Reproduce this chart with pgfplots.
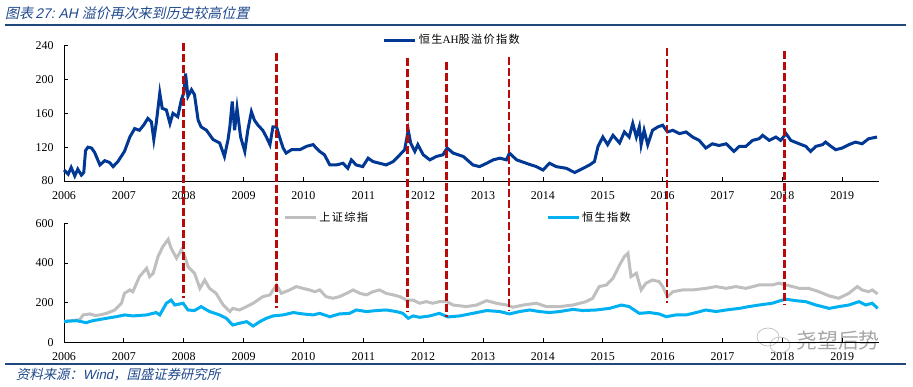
\documentclass[border=0pt]{standalone}
\usepackage{fontspec}
\setmainfont{Liberation Serif}
\newfontfamily\cjk[LetterSpace=12]{Noto Sans CJK SC}
\newfontfamily\cjkw{Noto Sans CJK SC}
\newfontfamily\cjkit[FakeSlant=0.22]{Noto Sans CJK SC}
\newfontfamily\sansit[FakeSlant=0.22]{Liberation Sans}
\usepackage{pgfplots}
\pgfplotsset{compat=1.18}
\definecolor{ahblue}{RGB}{0,56,147}
\definecolor{shgrey}{RGB}{191,191,191}
\definecolor{hsblue}{RGB}{0,176,240}
\definecolor{dred}{RGB}{185,10,10}
\definecolor{titleblue}{RGB}{31,73,140}
\definecolor{rulecol}{RGB}{31,73,125}
\pgfplotsset{
  myaxis/.style={
    scale only axis, width=815bp, anchor=south west,
    xmin=2006, xmax=2019.613,
    xtick={2006,2007,...,2019},
    axis x line*=bottom, axis y line*=left,
    axis line style={-, black, line width=0.8bp},
    major tick style={black, line width=0.8bp},
    major tick length=4bp,
    tick align=inside,
    /pgf/number format/.cd, 1000 sep={}, assume math mode=true,
    /pgfplots/.cd,
    tick label style={font=\fontsize{12}{14}\selectfont},
    xticklabel style={yshift=-7bp},
    yticklabel style={xshift=-7bp},
    legend cell align=left,
    legend image code/.code={\draw[#1] (0bp,0bp) -- (31bp,0bp);},
  }
}
\begin{document}
\begin{tikzpicture}
\path[use as bounding box] (0,0) rectangle (913bp,387bp);
% title and rules
\node[anchor=west, text=titleblue, inner sep=0pt] at (5bp,374bp)
  {\cjkit\fontsize{14}{16}\selectfont 图表\,{\sansit 27:\ AH\ }溢价再次来到历史较高位置};
\draw[rulecol, line width=1.2bp] (5bp,362bp) -- (906bp,362bp);
\draw[rulecol, line width=1.2bp] (5bp,23bp) -- (906bp,23bp);
\node[anchor=west, text=titleblue, inner sep=0pt] at (16bp,12bp)
  {\cjkit\fontsize{13.4}{15}\selectfont 资料来源：{\sansit Wind}，国盛证券研究所};
% watermark
\node[anchor=west, text=black!35, inner sep=0pt] at (796bp,46bp)
  {\cjkw\fontsize{21}{23}\selectfont 尧望后势};
\draw[black!25, line width=0.7bp] (768bp,50bp) ellipse (11bp and 9bp);
\draw[black!25, line width=0.7bp] (780bp,42bp) ellipse (10bp and 8bp);

% ---------------- bottom axis ----------------
\begin{axis}[myaxis,
  at={(64bp,44.7bp)}, height=119bp,
  ymin=0, ymax=600, ytick={0,200,400,600},
  legend columns=2,
  legend style={at={(0.269,1.045)}, anchor=west, draw=none, fill=none,
    inner sep=0pt,
    font=\cjk\fontsize{11.2}{13}\selectfont,
    /tikz/every even column/.append style={column sep=176bp}},
]
\addplot[shgrey, line width=3bp] coordinates {
(2006.00,105) (2006.08,108) (2006.15,110) (2006.26,113) (2006.32,138) (2006.43,143)
(2006.52,135) (2006.60,138) (2006.71,146) (2006.85,163) (2006.96,197) (2007.01,247)
(2007.10,264) (2007.15,255) (2007.26,331) (2007.38,373) (2007.43,331) (2007.49,348)
(2007.57,432) (2007.65,482) (2007.74,519) (2007.79,474) (2007.88,424) (2007.96,466)
(2008.02,432) (2008.07,382) (2008.18,348) (2008.27,272) (2008.35,314) (2008.43,272)
(2008.54,247) (2008.66,188) (2008.77,155) (2008.82,171) (2008.93,163) (2009.05,180)
(2009.16,197) (2009.32,230) (2009.44,239) (2009.55,289) (2009.63,247) (2009.77,264)
(2009.88,281) (2009.99,272) (2010.10,264) (2010.19,255) (2010.27,264) (2010.38,230)
(2010.49,222) (2010.60,230) (2010.72,247) (2010.83,264) (2010.94,247) (2011.05,239)
(2011.16,255) (2011.27,264) (2011.38,247) (2011.50,239) (2011.61,230) (2011.72,213)
(2011.83,213) (2011.94,197) (2012.05,205) (2012.16,197) (2012.27,205) (2012.39,205)
(2012.50,188) (2012.72,180) (2012.89,188) (2013.06,210) (2013.22,197) (2013.39,188)
(2013.50,177) (2013.67,188) (2013.89,197) (2014.06,180) (2014.28,180) (2014.50,188)
(2014.72,205) (2014.83,222) (2014.94,281) (2015.06,289) (2015.17,323) (2015.28,390)
(2015.36,432) (2015.42,449) (2015.47,331) (2015.56,348) (2015.64,264) (2015.72,298)
(2015.83,314) (2015.94,306) (2016.00,281) (2016.08,230) (2016.17,255) (2016.33,264)
(2016.50,264) (2016.72,272) (2016.89,281) (2017.06,272) (2017.22,281) (2017.39,272)
(2017.61,289) (2017.83,289) (2017.94,298) (2018.06,289) (2018.17,281) (2018.28,272)
(2018.44,272) (2018.61,255) (2018.78,234) (2018.94,222) (2019.11,247) (2019.25,281)
(2019.33,264) (2019.44,255) (2019.50,264) (2019.59,244)
};
\addlegendentry{上证综指}
\addplot[hsblue, line width=3bp] coordinates {
(2006.00,105) (2006.21,109) (2006.37,99) (2006.48,109) (2006.71,121) (2006.87,129)
(2007.01,138) (2007.15,133) (2007.38,138) (2007.54,150) (2007.60,138) (2007.71,197)
(2007.79,213) (2007.85,188) (2007.99,197) (2008.07,163) (2008.18,160) (2008.29,180)
(2008.43,155) (2008.60,138) (2008.71,121) (2008.82,87) (2008.93,96) (2009.05,104)
(2009.16,82) (2009.27,104) (2009.38,121) (2009.49,133) (2009.66,138) (2009.83,150)
(2009.99,143) (2010.16,138) (2010.27,146) (2010.44,129) (2010.60,143) (2010.77,146)
(2010.88,163) (2011.05,155) (2011.22,160) (2011.38,163) (2011.55,155) (2011.66,146)
(2011.75,121) (2011.83,133) (2011.94,126) (2012.11,133) (2012.27,146) (2012.41,128)
(2012.61,133) (2012.83,146) (2013.06,160) (2013.28,155) (2013.44,143) (2013.61,155)
(2013.78,163) (2013.94,155) (2014.11,150) (2014.28,155) (2014.50,166) (2014.67,160)
(2014.89,163) (2015.11,171) (2015.31,188) (2015.44,180) (2015.61,146) (2015.78,150)
(2015.94,143) (2016.06,129) (2016.22,138) (2016.39,138) (2016.56,150) (2016.72,163)
(2016.89,155) (2017.06,163) (2017.28,171) (2017.44,180) (2017.61,188) (2017.83,197)
(2018.00,213) (2018.06,217) (2018.22,210) (2018.39,205) (2018.56,188) (2018.78,171)
(2018.94,180) (2019.11,188) (2019.28,205) (2019.39,188) (2019.50,197) (2019.59,171)
};
\addlegendentry{恒生指数}
\end{axis}

% ---------------- top axis ----------------
\begin{axis}[myaxis,
  at={(64bp,206bp)}, height=135.3bp,
  ymin=80, ymax=240, ytick={80,120,160,200,240},
  clip=false,
  legend style={at={(0.391,1.042)}, anchor=west, draw=none, fill=none,
    inner sep=0pt,
    font=\cjk\fontsize{11.2}{13}\selectfont},
]
\addplot[ahblue, line width=3bp] coordinates {
(2006.00,93) (2006.07,88) (2006.12,96) (2006.18,86) (2006.23,94) (2006.29,87)
(2006.33,90) (2006.36,116) (2006.40,120) (2006.46,119) (2006.51,114) (2006.60,99)
(2006.68,104) (2006.76,102) (2006.82,97) (2006.90,103) (2007.01,115) (2007.10,132)
(2007.18,142) (2007.26,140) (2007.33,146) (2007.40,154) (2007.46,150) (2007.50,129)
(2007.54,148) (2007.60,184) (2007.64,166) (2007.71,164) (2007.77,148) (2007.82,160)
(2007.90,156) (2007.96,176) (2008.00,184) (2008.03,207) (2008.07,180) (2008.13,188)
(2008.18,182) (2008.24,152) (2008.29,144) (2008.38,140) (2008.49,129) (2008.60,125)
(2008.68,109) (2008.74,129) (2008.77,144) (2008.81,174) (2008.85,140) (2008.89,166)
(2008.95,132) (2009.02,115) (2009.07,140) (2009.13,162) (2009.18,152) (2009.24,146)
(2009.32,140) (2009.38,132) (2009.44,123) (2009.49,144) (2009.55,144) (2009.60,132)
(2009.66,119) (2009.71,113) (2009.80,117) (2009.94,117) (2010.05,121) (2010.16,123)
(2010.27,115) (2010.35,111) (2010.44,99) (2010.55,99) (2010.66,101) (2010.74,95)
(2010.80,105) (2010.88,99) (2010.99,97) (2011.08,107) (2011.16,103) (2011.27,101)
(2011.38,99) (2011.50,103) (2011.61,111) (2011.69,117) (2011.75,140) (2011.79,125)
(2011.86,115) (2011.91,123) (2012.00,111) (2012.11,105) (2012.22,109) (2012.33,111)
(2012.40,119) (2012.50,113) (2012.67,109) (2012.83,99) (2012.94,97) (2013.06,101)
(2013.17,105) (2013.28,107) (2013.39,105) (2013.44,113) (2013.56,105) (2013.72,101)
(2013.89,97) (2014.00,93) (2014.11,101) (2014.22,97) (2014.39,95) (2014.53,90)
(2014.67,95) (2014.78,99) (2014.86,103) (2014.92,121) (2015.00,132) (2015.08,123)
(2015.17,134) (2015.28,125) (2015.36,138) (2015.44,132) (2015.50,148) (2015.56,132)
(2015.61,144) (2015.64,123) (2015.69,140) (2015.75,123) (2015.83,140) (2015.92,144)
(2016.00,146) (2016.08,138) (2016.17,140) (2016.28,136) (2016.39,138) (2016.50,132)
(2016.61,128) (2016.72,119) (2016.83,124) (2016.94,122) (2017.06,124) (2017.19,115)
(2017.28,121) (2017.39,121) (2017.50,128) (2017.61,130) (2017.67,134) (2017.78,128)
(2017.89,132) (2017.97,128) (2018.06,136) (2018.14,128) (2018.28,124) (2018.39,121)
(2018.47,115) (2018.56,121) (2018.67,123) (2018.72,126) (2018.81,121) (2018.89,117)
(2019.00,119) (2019.11,123) (2019.22,126) (2019.33,124) (2019.44,130) (2019.58,132)
};
\addlegendentry{恒生{\rmfamily AH}股溢价指数}
% red dashed markers spanning both panels
\begin{scope}[dred, line width=2.6bp, dash pattern=on 8bp off 3bp]
\draw (axis cs:2008.00,242.8) -- (axis cs:2008.00,-58.4);
\draw (axis cs:2009.55,231.0) -- (axis cs:2009.55,-70.5);
\draw (axis cs:2011.74,225.8) -- (axis cs:2011.74,-74.6);
\draw (axis cs:2012.39,221.1) -- (axis cs:2012.39,-80.5);
\draw (axis cs:2013.43,227.0) -- (axis cs:2013.43,-73.4);
\draw (axis cs:2016.07,236.9) -- (axis cs:2016.07,-64.6);
\draw (axis cs:2018.03,234.1) -- (axis cs:2018.03,-66.6);
\end{scope}
\end{axis}
\end{tikzpicture}
\end{document}
